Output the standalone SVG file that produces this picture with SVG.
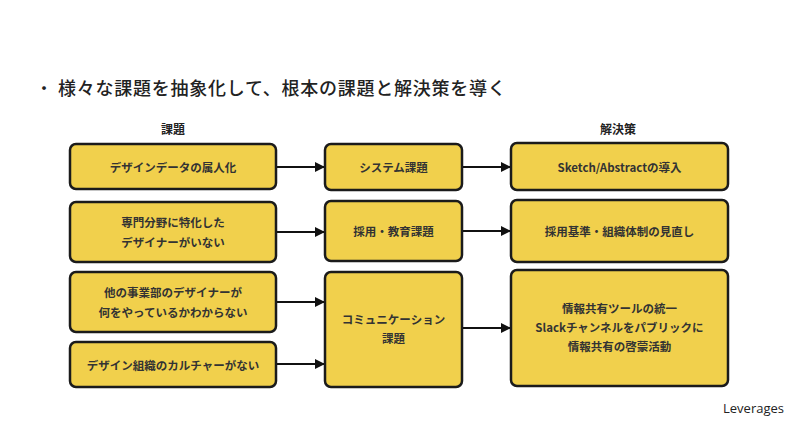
<svg xmlns="http://www.w3.org/2000/svg" width="800" height="441" viewBox="0 0 800 441">
<defs>
<style>
.box{fill:#F1D04C;stroke:#1b1b1b;stroke-width:2.5}
.t{font-family:"Noto Sans CJK JP","Noto Sans",sans-serif;font-size:11.5px;font-weight:bold;fill:#333;text-anchor:middle;dominant-baseline:central}
.h{font-family:"Noto Sans CJK JP","Noto Sans",sans-serif;font-size:12px;font-weight:bold;fill:#222;text-anchor:middle;dominant-baseline:central}
.c{stroke:#111;stroke-width:2;fill:none;marker-end:url(#ah)}
</style>
<marker id="ah" viewBox="0 0 10 10" refX="10" refY="5" markerWidth="10" markerHeight="10" markerUnits="userSpaceOnUse" orient="auto">
<path d="M0,0 L10,5 L0,10 z" fill="#111"/>
</marker>
</defs>
<rect width="800" height="441" fill="#fff"/>
<text x="35" y="87" font-family="'Noto Sans CJK JP',sans-serif" font-size="18" fill="#222" dominant-baseline="central">・</text>
<text x="58" y="87" font-family="'Noto Sans CJK JP',sans-serif" font-size="18" font-weight="500" letter-spacing="0.75" fill="#222" dominant-baseline="central">様々な課題を抽象化して、根本の課題と解決策を導く</text>
<text class="h" x="173" y="128">課題</text>
<text class="h" x="618" y="128">解決策</text>
<text x="784" y="408" font-family="'Open Sans','Noto Sans',sans-serif" font-size="13" fill="#222" text-anchor="end" dominant-baseline="central">Leverages</text>

<g id="connectors">
<line class="c" x1="277" y1="167" x2="325" y2="167"/>
<line class="c" x1="277" y1="232" x2="325" y2="232"/>
<line class="c" x1="277" y1="302" x2="325" y2="302"/>
<line class="c" x1="277" y1="364" x2="325" y2="364"/>
<line class="c" x1="463" y1="167" x2="511" y2="167"/>
<line class="c" x1="463" y1="231" x2="511" y2="231"/>
<line class="c" x1="463" y1="328" x2="511" y2="328"/>
</g>

<g id="p1"><rect class="box" x="70" y="144" width="206" height="45" rx="6"/><text class="t" x="173" y="166.5">デザインデータの属人化</text></g>
<g id="p2"><rect class="box" x="70" y="202" width="206" height="60" rx="6"/><text class="t" x="173" y="222">専門分野に特化した</text><text class="t" x="173" y="242">デザイナーがいない</text></g>
<g id="p3"><rect class="box" x="70" y="272" width="206" height="60" rx="6"/><text class="t" x="173" y="292">他の事業部のデザイナーが</text><text class="t" x="173" y="312">何をやっているかわからない</text></g>
<g id="p4"><rect class="box" x="70" y="342" width="206" height="45" rx="6"/><text class="t" x="173" y="364.5">デザイン組織のカルチャーがない</text></g>

<g id="m1"><rect class="box" x="325" y="144" width="137" height="46" rx="6"/><text class="t" x="393.5" y="166.5">システム課題</text></g>
<g id="m2"><rect class="box" x="325" y="201" width="137" height="60" rx="6"/><text class="t" x="393.5" y="231">採用・教育課題</text></g>
<g id="m3"><rect class="box" x="325" y="272" width="137" height="115" rx="6"/><text class="t" x="393.5" y="319">コミュニケーション</text><text class="t" x="393.5" y="338">課題</text></g>

<g id="s1"><rect class="box" x="511" y="143" width="217" height="47" rx="6"/><text class="t" x="619.5" y="166.5">Sketch/Abstractの導入</text></g>
<g id="s2"><rect class="box" x="511" y="200" width="217" height="62" rx="6"/><text class="t" x="619.5" y="231">採用基準・組織体制の見直し</text></g>
<g id="s3"><rect class="box" x="511" y="270" width="217" height="116" rx="6"/><text class="t" x="619.5" y="308">情報共有ツールの統一</text><text class="t" x="619.5" y="327">Slackチャンネルをパブリックに</text><text class="t" x="619.5" y="346">情報共有の啓蒙活動</text></g>
</svg>
